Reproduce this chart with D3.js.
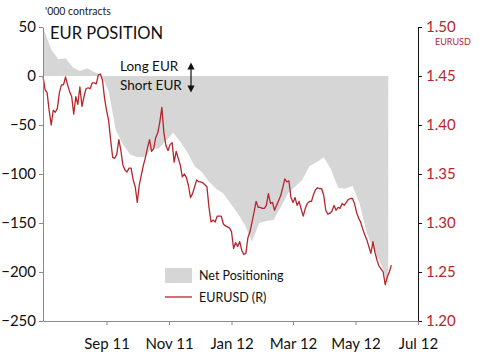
<!DOCTYPE html>
<html lang="en">
<head>
<meta charset="UTF-8">
<title>EUR Position</title>
<script src="https://d3js.org/d3.v7.min.js"></script>
<style>
  body { margin: 0; background: #fff; }
  svg { display: block; font-family: Lato, "Open Sans", sans-serif; }
</style>
</head>
<body>
<svg width="479" height="353"></svg>
<script>
// net speculative positioning, '000 contracts, weekly from netStart
const netStart = "2011-07-02";
const netPositioning = [
  47, 27, 17, 18, 9, 5, 8, 4, 1, -15,
  -55, -70, -80, -83, -83, -74, -74, -66, -58, -67,
  -78, -92, -98, -108, -115, -120, -130, -140, -152, -169,
  -150, -148, -147, -134, -120, -113, -106, -92, -88, -83,
  -95, -114, -115, -112, -130, -160, -178, -192, -214
];

// EURUSD, sampled every 2 days from fxStart
const fxStart = "2011-07-01";
const fxStepDays = 2;
const eurusd = [
  1.450, 1.436, 1.433, 1.415, 1.400, 1.415, 1.413, 1.417, 1.433, 1.441,
  1.441, 1.449, 1.441, 1.434, 1.429, 1.411, 1.429, 1.421, 1.439, 1.419,
  1.429, 1.437, 1.438, 1.437, 1.443, 1.443, 1.442, 1.451, 1.452, 1.446,
  1.428, 1.415, 1.405, 1.385, 1.367, 1.366, 1.370, 1.385, 1.374, 1.359,
  1.354, 1.352, 1.356, 1.356, 1.344, 1.337, 1.321, 1.339, 1.349, 1.359,
  1.367, 1.377, 1.385, 1.373, 1.376, 1.387, 1.392, 1.403, 1.418, 1.392,
  1.379, 1.374, 1.380, 1.382, 1.362, 1.373, 1.366, 1.359, 1.347, 1.350,
  1.346, 1.338, 1.326, 1.330, 1.337, 1.344, 1.342, 1.342, 1.341, 1.339,
  1.337, 1.316, 1.301, 1.303, 1.301, 1.307, 1.307, 1.307, 1.299, 1.297,
  1.296, 1.295, 1.291, 1.274, 1.280, 1.276, 1.281, 1.272, 1.268, 1.269,
  1.285, 1.291, 1.301, 1.311, 1.322, 1.316, 1.316, 1.315, 1.315, 1.318,
  1.330, 1.320, 1.321, 1.313, 1.318, 1.323, 1.328, 1.336, 1.345, 1.342,
  1.343, 1.326, 1.321, 1.326, 1.318, 1.322, 1.314, 1.307, 1.315, 1.320,
  1.322, 1.322, 1.329, 1.334, 1.336, 1.335, 1.335, 1.328, 1.313, 1.309,
  1.310, 1.312, 1.318, 1.313, 1.316, 1.315, 1.320, 1.318, 1.321, 1.324,
  1.325, 1.325, 1.320, 1.311, 1.305, 1.301, 1.294, 1.288, 1.283, 1.276,
  1.269, 1.281, 1.270, 1.262, 1.256, 1.253, 1.250, 1.237, 1.245, 1.250,
  1.257
];

const leftTicks = [50, 0, -50, -100, -150, -200, -250];
const rightTicks = [1.20, 1.25, 1.30, 1.35, 1.40, 1.45, 1.50];
const monthTicks = ["2011-09-01", "2011-11-01", "2012-01-01", "2012-03-01", "2012-05-01", "2012-07-01"];

const red = "#b5262d";
const parse = d3.utcParse("%Y-%m-%d");

const netData = netPositioning.map((v, i) => ({ date: d3.utcDay.offset(parse(netStart), 7 * i), value: v }));
const fxData = eurusd.map((v, i) => ({ date: d3.utcDay.offset(parse(fxStart), fxStepDays * i), value: v }));

const svg = d3.select("svg");
const plotLeft = 43, plotRight = 418, plotTop = 27, plotBottom = 321;

const x = d3.scaleUtc()
  .domain([parse("2011-07-01"), parse("2012-07-01")])
  .range([plotLeft, plotRight]);
const y = d3.scaleLinear().domain([-250, 50]).range([plotBottom, plotTop]);
const y2 = d3.scaleLinear().domain([1.20, 1.50]).range([plotBottom, plotTop]);

// gray area
svg.append("path")
  .datum(netData)
  .attr("fill", "#d6d6d6")
  .attr("d", d3.area()
    .x(d => x(d.date))
    .y0(y(0))
    .y1(d => y(d.value)));

// eurusd line
svg.append("path")
  .datum(fxData)
  .attr("fill", "none")
  .attr("stroke", red)
  .attr("stroke-width", 1.3)
  .attr("stroke-linejoin", "round")
  .attr("d", d3.line()
    .x(d => x(d.date))
    .y(d => y2(d.value)));

// left axis
const gl = svg.append("g")
  .attr("transform", `translate(${plotLeft},0)`)
  .call(d3.axisLeft(y).tickValues(leftTicks).tickSize(4).tickPadding(3).tickSizeOuter(0));
gl.select(".domain").attr("stroke", "#8a8a8a");
gl.selectAll(".tick line").attr("stroke", "#8a8a8a");
gl.selectAll("text").attr("font-size", 15).attr("fill", "#111").attr("font-family", "Lato, sans-serif");

// right axis
const gr = svg.append("g")
  .attr("transform", `translate(${plotRight},0)`)
  .call(d3.axisRight(y2).tickValues(rightTicks).tickFormat(d3.format(".2f")).tickSize(4).tickPadding(4).tickSizeOuter(0));
gr.select(".domain").attr("stroke", "#111");
gr.selectAll(".tick line").attr("stroke", "#111");
gr.selectAll("text").attr("font-size", 15).attr("fill", red).attr("font-family", "Lato, sans-serif");

// bottom axis
const gb = svg.append("g")
  .attr("transform", `translate(0,${plotBottom})`)
  .call(d3.axisBottom(x).tickValues(monthTicks.map(parse)).tickFormat(d3.utcFormat("%b %y")).tickSize(4).tickPadding(13).tickSizeOuter(0));
gb.select(".domain").attr("stroke", "#8a8a8a");
gb.selectAll(".tick line").attr("stroke", "#8a8a8a");
gb.selectAll("text").attr("font-size", 15).attr("fill", "#111").attr("font-family", "Lato, sans-serif");

// titles
svg.append("text").attr("x", 45).attr("y", 15).attr("font-size", 10.5).attr("fill", "#222").text("'000 contracts");
svg.append("text").attr("x", 50).attr("y", 39).attr("font-size", 16.5).attr("fill", "#111").text("EUR POSITION");
svg.append("text").attr("x", 435).attr("y", 45).attr("font-size", 9).attr("fill", red).text("EURUSD");

// long / short annotation
svg.append("text").attr("x", 120).attr("y", 71).attr("font-size", 13.5).attr("fill", "#111").text("Long EUR");
svg.append("text").attr("x", 120).attr("y", 90).attr("font-size", 13.5).attr("fill", "#111").text("Short EUR");
const defs = svg.append("defs");
defs.append("marker")
  .attr("id", "ah")
  .attr("viewBox", "0 0 10 10")
  .attr("refX", 5).attr("refY", 5)
  .attr("markerWidth", 6).attr("markerHeight", 6)
  .attr("orient", "auto-start-reverse")
  .append("path").attr("d", "M0,0L10,5L0,10z").attr("fill", "#111");
svg.append("line")
  .attr("x1", 191).attr("x2", 191).attr("y1", 66).attr("y2", 89)
  .attr("stroke", "#111").attr("stroke-width", 1.2)
  .attr("marker-start", "url(#ah)").attr("marker-end", "url(#ah)");

// legend
const lg = svg.append("g").attr("font-size", 12.5).attr("fill", "#111");
lg.append("rect").attr("x", 165).attr("y", 268).attr("width", 27).attr("height", 15).attr("fill", "#d6d6d6");
lg.append("text").attr("x", 199).attr("y", 280).text("Net Positioning");
lg.append("line").attr("x1", 165).attr("x2", 192).attr("y1", 297).attr("y2", 297).attr("stroke", red).attr("stroke-width", 1.3);
lg.append("text").attr("x", 199).attr("y", 302).text("EURUSD (R)");
</script>
</body>
</html>
